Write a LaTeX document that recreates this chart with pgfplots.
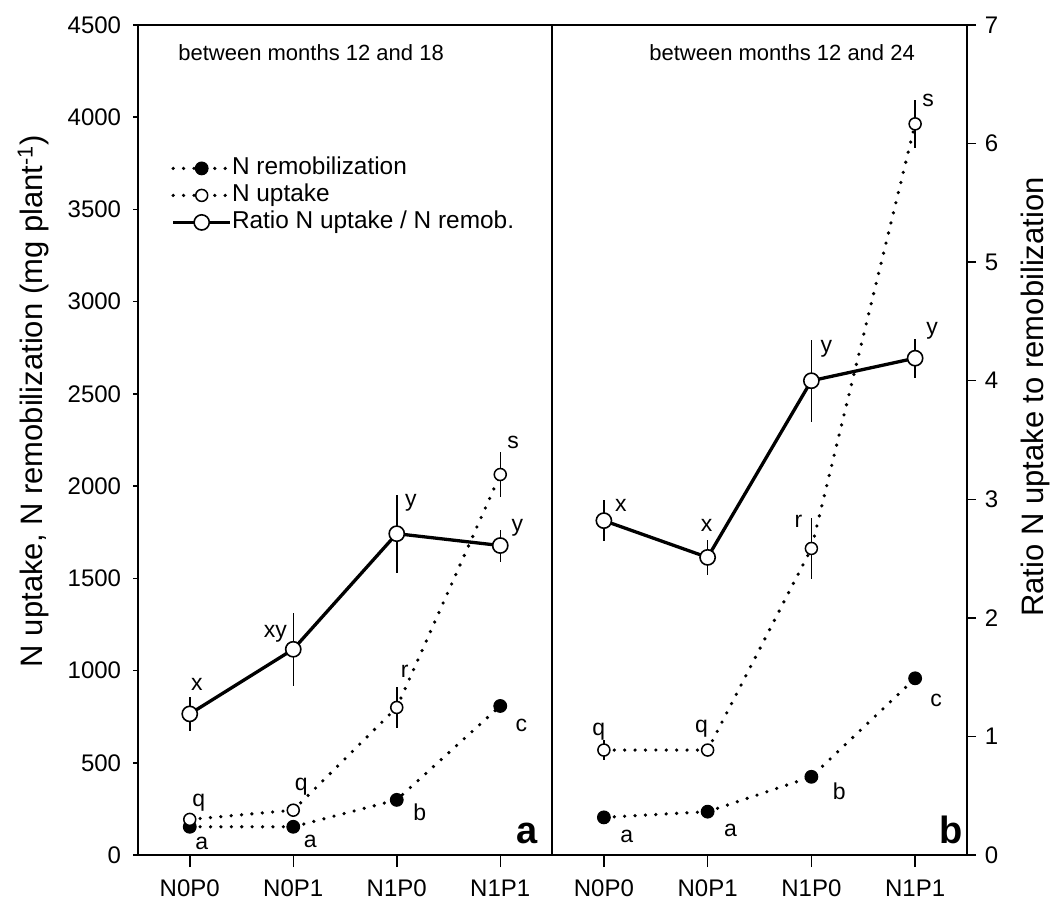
\documentclass[border=0pt]{standalone}
\usepackage{fontspec}
\setmainfont{Liberation Sans}
\usepackage{pgfplots}
\pgfplotsset{compat=1.18}

\tikzset{lbl/.style={font=\fontsize{11.5}{13.8}\selectfont, inner sep=0pt}}

\pgfplotsset{
  panel/.style={
    scale only axis, width=207pt, height=415pt,
    xmin=-0.5, xmax=3.5, ymin=0, ymax=4500,
    xtick={0,1,2,3}, xticklabels={N0P0,N0P1,N1P0,N1P1},
    tick align=outside, xtick pos=bottom,
    axis line style={line width=0.75pt},
    every tick/.style={black, line width=0.75pt},
    xtick style={/pgfplots/major tick length=6pt},
    ytick style={/pgfplots/major tick length=2.5pt},
    tick label style={font=\fontsize{12}{14.4}\selectfont},
    xticklabel style={anchor=base, inner sep=0pt, yshift=-16.5pt},
    yticklabel style={anchor=east, inner sep=0pt, xshift=-4pt},
    /pgf/number format/assume math mode=true,
    /pgf/number format/set thousands separator={},
    clip=false,
  },
  ratioax/.style={
    scale only axis, width=207pt, height=415pt,
    xmin=-0.5, xmax=3.5, ymin=0, ymax=7, clip=false,
  },
  dots/.style={black, line width=1.8pt, dash pattern=on 0pt off 5.2pt, line cap=round},
  remob/.style={dots, mark=*, mark size=3.2pt,
    mark options={solid, fill=black, line width=0.5pt}},
  uptake/.style={dots, mark=*, mark size=3pt,
    mark options={solid, fill=white, line width=0.75pt},
    error bars/.cd, y dir=both, y explicit, error mark=none,
    error bar style={solid, line width=0.75pt, line cap=butt}},
  ratio/.style={black, line width=1.65pt, mark=*, mark size=3.8pt,
    mark options={solid, fill=white, line width=0.8pt},
    error bars/.cd, y dir=both, y explicit, error mark=none,
    error bar style={solid, line width=0.75pt, line cap=butt}},
}

\begin{document}
\begin{tikzpicture}
\useasboundingbox (0,0) rectangle (529pt,452.5pt);

% ---------- panel a: between months 12 and 18 ----------
\begin{axis}[panel, at={(69pt,25pt)}, anchor=south west,
  ytick={0,500,...,4500}, ytick pos=left,
  legend style={draw=none, fill=none, at={(rel axis cs:0,1)}, anchor=north west,
    xshift=13.5pt, yshift=-64pt, font=\fontsize{12.2}{14}\selectfont,
    row sep=2.5pt, nodes={inner sep=0pt, text height=8.6pt, text depth=2.4pt}},
  legend cell align=left,
  legend image code/.code={\draw[mark repeat=2, mark phase=2, #1]
    plot coordinates {(0pt,0pt) (14.25pt,0pt) (28.5pt,0pt)};},
  /tikz/every even column/.append style={column sep=6.5pt},
]
\addplot[remob] coordinates {(0,153) (1,153) (2,299) (3,808)};
\addlegendentry{N remobilization}
\addplot[uptake] coordinates {
  (0,193) +- (0,0)
  (1,243) +- (0,0)
  (2,800) +- (0,111)
  (3,2063) +- (0,121)};
\addlegendentry{N uptake}
\addlegendimage{ratio}
\addlegendentry{Ratio N uptake / N remob.}

\node[lbl] at (axis cs:0,153) [shift={(6pt,-8.5pt)}] {a};
\node[lbl] at (axis cs:1,153) [shift={(8.5pt,-7.5pt)}] {a};
\node[lbl] at (axis cs:2,299) [shift={(11.5pt,-6pt)}] {b};
\node[lbl] at (axis cs:3,808) [shift={(10.5pt,-9.5pt)}] {c};
\node[lbl] at (axis cs:0,193) [shift={(4.5pt,8.5pt)}] {q};
\node[lbl] at (axis cs:1,243) [shift={(4pt,11.5pt)}] {q};
\node[lbl] at (axis cs:2,800) [shift={(4pt,18pt)}] {r};
\node[lbl] at (axis cs:3,2063) [shift={(6.5pt,16pt)}] {s};

\node[anchor=base west, font=\fontsize{11}{13}\selectfont, inner sep=0pt]
  at (rel axis cs:0,1) [xshift=20pt, yshift=-17.5pt] {between months 12 and 18};
\node[anchor=base east, font=\bfseries\fontsize{19}{22}\selectfont, inner sep=0pt]
  at (rel axis cs:1,0) [xshift=-7pt, yshift=6pt] {a};
\end{axis}

\begin{axis}[ratioax, hide axis, at={(69pt,25pt)}, anchor=south west]
\addplot[ratio] coordinates {
  (0,1.19) +- (0,0.14)
  (1,1.735) +- (0,0.31)
  (2,2.71) +- (0,0.33)
  (3,2.61) +- (0,0.135)};
\node[lbl] at (axis cs:0,1.19) [shift={(3.5pt,14.5pt)}] {x};
\node[lbl] at (axis cs:1,1.735) [shift={(-9pt,7.5pt)}] {xy};
\node[lbl] at (axis cs:2,2.71) [shift={(7pt,15.5pt)}] {y};
\node[lbl] at (axis cs:3,2.61) [shift={(8.5pt,9pt)}] {y};
\end{axis}

% ---------- panel b: between months 12 and 24 ----------
\begin{axis}[panel, at={(276pt,25pt)}, anchor=south west, width=207.5pt,
  ytick=\empty]
\addplot[remob] coordinates {(0,204) (1,235) (2,424) (3,958)};
\addplot[uptake] coordinates {
  (0,569) +- (0,54)
  (1,569) +- (0,0)
  (2,1662) +- (0,163)
  (3,3964) +- (0,130)};

\node[lbl] at (axis cs:0,204) [shift={(11.5pt,-9.5pt)}] {a};
\node[lbl] at (axis cs:1,235) [shift={(11.5pt,-9.5pt)}] {a};
\node[lbl] at (axis cs:2,424) [shift={(14pt,-7pt)}] {b};
\node[lbl] at (axis cs:3,958) [shift={(10.5pt,-11pt)}] {c};
\node[lbl] at (axis cs:0,569) [shift={(-2.5pt,9pt)}] {q};
\node[lbl] at (axis cs:1,569) [shift={(-3pt,10.5pt)}] {q};
\node[lbl] at (axis cs:2,1662) [shift={(-6.5pt,13.5pt)}] {r};
\node[lbl] at (axis cs:3,3964) [shift={(6.5pt,11.5pt)}] {s};

\node[anchor=base west, font=\fontsize{11}{13}\selectfont, inner sep=0pt]
  at (rel axis cs:0,1) [xshift=48.5pt, yshift=-17.5pt] {between months 12 and 24};
\node[anchor=base east, font=\bfseries\fontsize{19}{22}\selectfont, inner sep=0pt]
  at (rel axis cs:1,0) [xshift=-2pt, yshift=6pt] {b};
\end{axis}

\begin{axis}[ratioax, at={(276pt,25pt)}, anchor=south west, width=207.5pt,
  axis y line*=right, axis x line=none,
  ytick={0,1,...,7}, tick align=outside,
  axis line style={line width=0.75pt},
  every tick/.style={black, line width=0.75pt},
  ytick style={/pgfplots/major tick length=4.5pt},
  tick label style={font=\fontsize{12}{14.4}\selectfont},
  yticklabel style={anchor=west, inner sep=0pt, xshift=4.5pt},
  /pgf/number format/assume math mode=true,
]
\addplot[ratio] coordinates {
  (0,2.82) +- (0,0.17)
  (1,2.51) +- (0,0.145)
  (2,4.0) +- (0,0.345)
  (3,4.19) +- (0,0.165)};
\node[lbl] at (axis cs:0,2.82) [shift={(8.5pt,7.5pt)}] {x};
\node[lbl] at (axis cs:1,2.51) [shift={(-0.5pt,16pt)}] {x};
\node[lbl] at (axis cs:2,4.0) [shift={(7.5pt,16pt)}] {y};
\node[lbl] at (axis cs:3,4.19) [shift={(8.5pt,13.5pt)}] {y};
\end{axis}

% axis titles
\node[rotate=90, anchor=base, font=\fontsize{15.5}{18}\selectfont, inner sep=0pt]
  at (21.5pt,252pt) {N uptake, N remobilization (mg plant\textsuperscript{-1})};
\node[rotate=90, anchor=base, font=\fontsize{15.5}{18}\selectfont, inner sep=0pt]
  at (521.5pt,254pt) {Ratio N uptake to remobilization};
\end{tikzpicture}
\end{document}
